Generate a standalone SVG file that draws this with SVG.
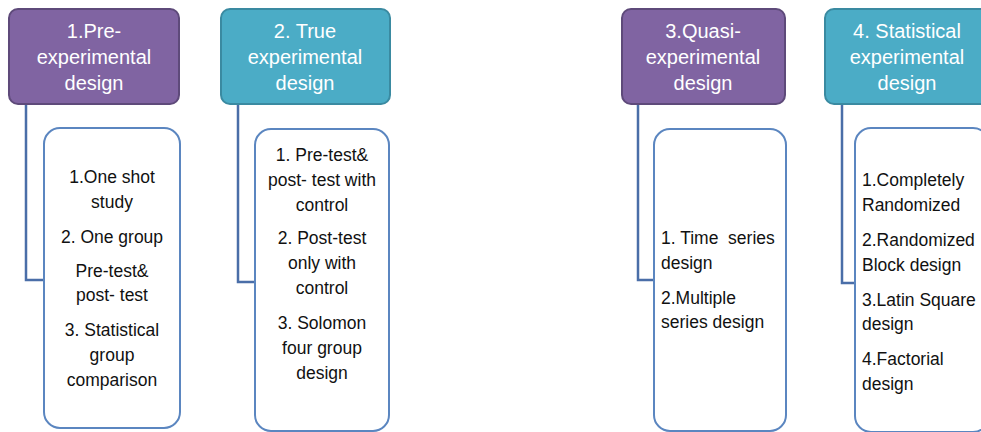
<svg xmlns="http://www.w3.org/2000/svg" width="981" height="432" viewBox="0 0 981 432">
  <style>
    .hdr-purple { fill: #8064A2; stroke: #5E4A7A; stroke-width: 2; }
    .hdr-teal { fill: #4BACC6; stroke: #3A8AA1; stroke-width: 2; }
    .hdr-text { font-family: "Liberation Sans", Arial, sans-serif; font-size: 20px; fill: #FFFFFF; text-anchor: middle; }
    .item-box { fill: #FFFFFF; stroke: #5B86C0; stroke-width: 2; }
    .item-text { font-family: "Liberation Sans", Arial, sans-serif; font-size: 17.5px; fill: #111111; }
    .mid { text-anchor: middle; }
    .conn { fill: none; stroke: #4A6EA8; stroke-width: 2.5; }
  </style>

  <!-- connectors from each header down to its list box -->
  <g id="connectors">
    <polyline class="conn" points="26,105 26,280 44,280"/>
    <polyline class="conn" points="238,105 238,282 255,282"/>
    <polyline class="conn" points="638,105 638,280 653,280"/>
    <polyline class="conn" points="842,105 842,283 854,283"/>
  </g>

  <!-- 1. Pre-experimental -->
  <g id="pre-experimental">
    <rect class="hdr-purple" x="9" y="9" width="170" height="95" rx="9"/>
    <text class="hdr-text" x="94" y="38">1.Pre-</text>
    <text class="hdr-text" x="94" y="64">experimental</text>
    <text class="hdr-text" x="94" y="90">design</text>
  </g>
  <g id="pre-experimental-list">
    <rect class="item-box" x="44" y="128" width="136" height="300" rx="16"/>
    <g class="item-text mid">
      <text x="112" y="183">1.One shot</text>
      <text x="112" y="208">study</text>
      <text x="112" y="243">2. One group</text>
      <text x="112" y="277">Pre-test&amp;</text>
      <text x="112" y="301">post- test</text>
      <text x="112" y="336">3. Statistical</text>
      <text x="112" y="361">group</text>
      <text x="112" y="386">comparison</text>
    </g>
  </g>

  <!-- 2. True experimental -->
  <g id="true-experimental">
    <rect class="hdr-teal" x="221" y="9" width="169" height="95" rx="9"/>
    <text class="hdr-text" x="305" y="38">2. True</text>
    <text class="hdr-text" x="305" y="64">experimental</text>
    <text class="hdr-text" x="305" y="90">design</text>
  </g>
  <g id="true-experimental-list">
    <rect class="item-box" x="255" y="129" width="134" height="302" rx="16"/>
    <g class="item-text mid">
      <text x="322" y="161">1. Pre-test&amp;</text>
      <text x="322" y="186">post- test with</text>
      <text x="322" y="211">control</text>
      <text x="322" y="244">2. Post-test</text>
      <text x="322" y="269">only with</text>
      <text x="322" y="294">control</text>
      <text x="322" y="329">3. Solomon</text>
      <text x="322" y="354">four group</text>
      <text x="322" y="379">design</text>
    </g>
  </g>

  <!-- 3. Quasi-experimental -->
  <g id="quasi-experimental">
    <rect class="hdr-purple" x="622" y="9" width="163" height="95" rx="9"/>
    <text class="hdr-text" x="703" y="38">3.Quasi-</text>
    <text class="hdr-text" x="703" y="64">experimental</text>
    <text class="hdr-text" x="703" y="90">design</text>
  </g>
  <g id="quasi-experimental-list">
    <rect class="item-box" x="654" y="129" width="132" height="302" rx="16"/>
    <g class="item-text">
      <text x="661" y="244" xml:space="preserve">1. Time  series</text>
      <text x="661" y="269">design</text>
      <text x="661" y="304">2.Multiple</text>
      <text x="661" y="328">series design</text>
    </g>
  </g>

  <!-- 4. Statistical experimental -->
  <g id="statistical-experimental">
    <rect class="hdr-teal" x="825" y="9" width="164" height="95" rx="9"/>
    <text class="hdr-text" x="907" y="38">4. Statistical</text>
    <text class="hdr-text" x="907" y="64">experimental</text>
    <text class="hdr-text" x="907" y="90">design</text>
  </g>
  <g id="statistical-experimental-list">
    <rect class="item-box" x="855" y="128" width="134" height="304" rx="16"/>
    <g class="item-text">
      <text x="862" y="186">1.Completely</text>
      <text x="862" y="211">Randomized</text>
      <text x="862" y="246">2.Randomized</text>
      <text x="862" y="271">Block design</text>
      <text x="862" y="306">3.Latin Square</text>
      <text x="862" y="330">design</text>
      <text x="862" y="365">4.Factorial</text>
      <text x="862" y="390">design</text>
    </g>
  </g>
</svg>
